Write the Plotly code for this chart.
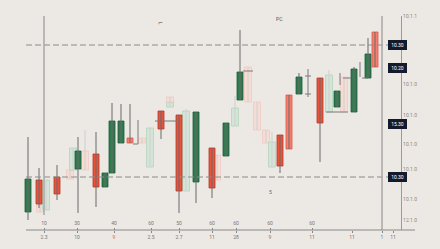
import plotly.graph_objects as go

# ---------------- data ----------------
t = [28, 39, 40, 46, 57, 70, 73, 78, 85, 96, 105, 112, 121, 130, 142, 150, 161, 170, 170, 179,
     186, 196, 212, 217, 226, 235, 240, 248, 257, 266, 272, 280, 289, 299, 320, 329, 337, 344, 354, 368, 375]
kind = ['G', 'R', 'r', 'g', 'R', 'r', 'g', 'G', 'r', 'R', 'G', 'G', 'G', 'S', 'r', 'g', 'R', 'g', 'r', 'R',
        'g', 'G', 'R', 'r', 'G', 'g', 'G', 'r', 'r', 'r', 'g', 'R', 'S', 'G', 'R', 'g', 'G', 'r', 'G', 'G', 'S']
open_ = [101.8, 105.0, 102.5, 102.0, 105.3, 106.0, 106.0, 106.1, 107.9, 107.6, 104.3, 105.7, 108.7, 109.2, 109.2,
         106.3, 111.9, 112.3, 113.3, 111.5, 103.9, 104.8, 108.2, 107.5, 107.4, 110.4, 113.0, 116.3, 112.8, 110.0,
         106.3, 109.5, 113.5, 113.6, 115.2, 111.8, 112.3, 115.3, 111.8, 115.2, 119.8]
close = [105.1, 102.6, 101.8, 105.0, 103.6, 105.1, 108.2, 107.9, 106.0, 104.3, 105.7, 110.9, 110.9, 108.7, 108.7,
         110.2, 110.1, 112.8, 112.8, 103.9, 111.9, 111.8, 104.2, 105.0, 110.7, 112.2, 115.8, 112.8, 110.0, 108.7,
         108.8, 106.4, 108.1, 115.3, 110.7, 115.5, 113.9, 111.8, 116.1, 117.6, 116.3]
high = [109.3, 106.2, 102.5, 105.0, 106.5, 106.0, 108.2, 109.3, 110.0, 109.8, 105.7, 112.7, 112.6, 112.6, 109.2,
        110.2, 111.9, 112.8, 113.3, 111.5, 112.1, 111.8, 108.2, 107.5, 110.7, 113.4, 120.0, 116.3, 112.8, 110.0,
        109.8, 109.5, 113.5, 115.7, 115.2, 116.0, 113.9, 115.3, 116.3, 119.2, 119.8]
low = [101.0, 102.2, 101.8, 102.0, 103.0, 105.1, 106.0, 101.7, 106.0, 102.3, 104.3, 105.7, 108.7, 108.7, 108.7,
       106.3, 109.1, 112.3, 112.8, 101.7, 103.9, 102.7, 103.2, 105.0, 107.4, 110.4, 113.0, 112.8, 110.0, 108.7,
       106.3, 105.7, 108.1, 113.6, 106.8, 111.8, 112.3, 111.8, 111.8, 115.2, 116.3]

# wick-only marks
wick_t = [138, 308, 340, 360]
wick_hi = [111.0, 116.1, 115.7, 116.8]
wick_lo = [108.6, 113.3, 114.5, 115.3]

# horizontal connectors (t0, t1, level)
conn_t0 = [133, 155, 243, 326, 343, 362, 305, 305]
conn_t1 = [138, 177, 253, 348, 351, 368, 311, 311]
conn_p = [108.6, 110.9, 115.9, 111.8, 115.2, 115.2, 115.4, 113.6]

levels = [118.5, 105.3]
cursor_t = [44, 382]
cursor_lo = [101.5, 100.0]

badge_p = [118.5, 116.2, 110.6, 105.3]
badge_txt = ["10.30", "10.20", "15.30", "10.30"]

y_ticks = [121.4, 114.6, 111.5, 108.6, 106.1, 103.1, 101.0]
y_text = ["10.1.1", "10.1.0", "10.1.0", "10.1.0", "10.1.0", "10.1.0", "12.1.0"]

x_top_vals = [44, 77, 114, 151, 179, 212, 236, 270, 312]
x_top_text = ["10", "30", "40", "60", "50", "60", "60", "60", "60"]
x_bot_vals = [44, 77, 114, 151, 179, 212, 236, 270, 312, 352, 382, 393]
x_bot_text = ["2.3", "10", "<span style='color:#e0604f'>9</span>", "2.5", "2.7", "11", "28", "9", "11",
              "11", "1", "11"]

# ---------------- styles ----------------
FILL = {'G': '#2f7a4f', 'R': '#e8533c', 'S': '#f77e6e', 'g': '#d3e5d6', 'r': '#f5ddd6'}
EDGE = {'G': '#1f5c3a', 'R': '#b03a28', 'S': '#d9584a', 'g': '#b8d3bf', 'r': '#efcac1'}
WIDTH = {'G': 6, 'R': 6, 'S': 6, 'g': 7, 'r': 7}
BG = '#ece8e4'

fig = go.Figure()


def add_group(kinds, wick_color, wick_w):
    idx = [i for i, k in enumerate(kind) if k in kinds]
    wx, wy = [], []
    for i in idx:
        wx += [t[i], t[i], None]
        wy += [low[i], high[i], None]
    fig.add_trace(go.Scatter(x=wx, y=wy, mode='lines', line=dict(color=wick_color, width=wick_w),
                             hoverinfo='skip', showlegend=False))
    fig.add_trace(go.Bar(
        x=[t[i] for i in idx],
        base=[open_[i] for i in idx],
        y=[close[i] - open_[i] for i in idx],
        width=[WIDTH[kind[i]] for i in idx],
        marker=dict(color=[FILL[kind[i]] for i in idx],
                    line=dict(color=[EDGE[kind[i]] for i in idx], width=0.8)),
        showlegend=False, hoverinfo='skip'))


add_group(['g', 'r'], '#cfcfcf', 1)

# wick-only and connectors
wx, wy = [], []
for a, h, l in zip(wick_t, wick_hi, wick_lo):
    wx += [a, a, None]
    wy += [l, h, None]
for a, b, p in zip(conn_t0, conn_t1, conn_p):
    wx += [a, b, None]
    wy += [p, p, None]
fig.add_trace(go.Scatter(x=wx, y=wy, mode='lines', line=dict(color='#7a7a7a', width=1),
                         hoverinfo='skip', showlegend=False))

add_group(['G', 'R', 'S'], '#6a6a6a', 1)

# invisible trace for the second x axis
fig.add_trace(go.Scatter(x=[0, 401], y=[100, 100], xaxis='x2', mode='markers',
                         marker=dict(opacity=0), hoverinfo='skip', showlegend=False))

shapes = []
for p in levels:
    shapes.append(dict(type='line', xref='x', yref='y', x0=26, x1=398, y0=p, y1=p,
                       line=dict(color='#8c8c8c', width=1, dash='6px,3px')))
for c, lo in zip(cursor_t, cursor_lo):
    shapes.append(dict(type='line', xref='x', yref='y', x0=c, x1=c, y0=lo, y1=121.4,
                       line=dict(color='#a9a9a9', width=1.5)))
shapes.append(dict(type='line', xref='paper', yref='paper', x0=26 / 401, x1=415 / 401, y0=0, y1=0,
                   line=dict(color='#8a8a8a', width=1.2)))

annotations = []
for p, s in zip(badge_p, badge_txt):
    annotations.append(dict(xref='paper', yref='y', x=407 / 401, y=p, text=s, showarrow=False,
                            font=dict(family='Roboto', size=5, color='#ffffff'),
                            bgcolor='#141a2c', bordercolor='#141a2c', borderpad=1,
                            width=15, height=6))
annotations.append(dict(xref='x', yref='y', x=279, y=121.1, text='PC', showarrow=False,
                        font=dict(family='Roboto', size=5, color='#555555')))
annotations.append(dict(xref='x', yref='y', x=160, y=120.8, text='⌐', showarrow=False,
                        font=dict(family='DejaVu Sans', size=6, color='#6b3030')))
annotations.append(dict(xref='x', yref='y', x=270, y=103.8, text='5', showarrow=False,
                        font=dict(family='Roboto', size=5, color='#666666')))

fig.update_layout(
    width=440, height=249,
    margin=dict(l=0, r=39, t=16, b=19),
    paper_bgcolor=BG, plot_bgcolor=BG,
    barmode='overlay',
    showlegend=False,
    shapes=shapes,
    annotations=annotations,
    xaxis=dict(range=[0, 401], showgrid=False, zeroline=False, showline=False,
               tickmode='array', tickvals=x_bot_vals, ticktext=x_bot_text,
               ticks='outside', ticklen=2, tickcolor='#888888', tickwidth=1,
               tickfont=dict(family='Roboto', size=5, color='#777777')),
    xaxis2=dict(range=[0, 401], overlaying='x', anchor='y', side='bottom',
                showgrid=False, zeroline=False, showline=False,
                tickmode='array', tickvals=x_top_vals, ticktext=x_top_text,
                ticklabelposition='inside', ticks='inside', ticklen=2, tickcolor='#888888',
                tickfont=dict(family='Roboto', size=5, color='#777777')),
    yaxis=dict(range=[100, 121.4], side='right', showgrid=False, zeroline=False,
               showline=True, linecolor='#9a9a9a', linewidth=1.2,
               tickmode='array', tickvals=y_ticks, ticktext=y_text, ticks='',
               tickfont=dict(family='Roboto', size=5, color='#888888')),
)

fig.write_html("out.html")
